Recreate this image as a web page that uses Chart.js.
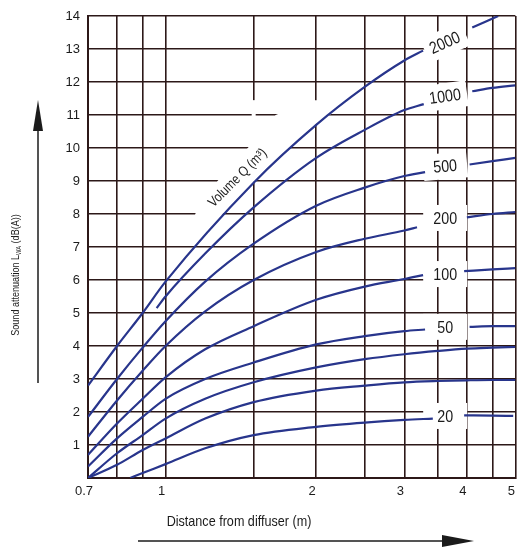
<!DOCTYPE html>
<html>
<head>
<meta charset="utf-8">
<script src="https://cdn.jsdelivr.net/npm/chart.js@4.4.1/dist/chart.umd.min.js"></script>
<style>
  html, body { margin: 0; padding: 0; background: #fff; }
  #wrap { width: 525px; height: 550px; }
</style>
</head>
<body>
<div id="wrap"><canvas id="chart" width="525" height="550"></canvas></div>
<script>
// ---------------------------------------------------------------------------
// Data
// ---------------------------------------------------------------------------
const gridX = [0.7, 0.8, 0.9, 1, 1.5, 2, 2.5, 3, 3.5, 4, 4.5, 5];
const xTickLabels = [0.7, 1, 2, 3, 4, 5];
const yTicks = [0, 1, 2, 3, 4, 5, 6, 7, 8, 9, 10, 11, 12, 13, 14];

// each curve: distance (m) and attenuation dB(A); null = gap for the label
const q2000X = [0.7, 0.8, 0.9, 1, 1.5, 2, 2.5, 3, 3.27, 3.6, 4.1, 4.62];
const q2000Y = [2.8, 4.0, 5.0, 5.95, 8.95, 10.7, 11.85, 12.65, 12.95, null, 13.65, 14.0];

const q1000X = [0.96, 1, 1.2, 1.5, 2, 2.5, 3, 3.28, 3.6, 4.1, 4.5, 5];
const q1000Y = [5.15, 5.5, 6.8, 8.2, 9.7, 10.55, 11.15, 11.33, null, 11.72, 11.82, 11.9];

const q500X = [0.7, 0.8, 0.9, 1, 1.2, 1.5, 2, 2.5, 3, 3.3, 3.6, 4.05, 4.5, 5];
const q500Y = [1.85, 3.0, 3.95, 4.75, 5.95, 7.1, 8.25, 8.8, 9.15, 9.27, null, 9.5, 9.6, 9.7];

const q200X = [0.7, 0.8, 0.9, 1, 1.2, 1.5, 2, 2.5, 3, 3.18, 3.6, 4.0, 4.5, 5];
const q200Y = [1.25, 2.35, 3.25, 4.0, 5.05, 6.0, 6.85, 7.25, 7.5, 7.6, null, 7.9, 8.0, 8.06];

const q100X = [0.7, 0.8, 0.9, 1, 1.2, 1.5, 2, 2.5, 3, 3.27, 3.6, 3.95, 4.5, 5];
const q100Y = [0.7, 1.65, 2.4, 3.05, 3.9, 4.6, 5.4, 5.8, 6.03, 6.15, null, 6.27, 6.32, 6.36];

const q50X = [0.7, 0.8, 0.9, 1, 1.2, 1.5, 2, 2.5, 3, 3.3, 3.6, 4.05, 4.5, 5];
const q50Y = [0.35, 1.2, 1.85, 2.4, 3.0, 3.5, 4.05, 4.3, 4.45, 4.5, null, 4.58, 4.6, 4.6];

const qUpperX = [0.7, 0.8, 0.9, 1, 1.2, 1.5, 2, 2.5, 3, 3.5, 4, 4.5, 5];
const qUpperY = [0, 0.75, 1.3, 1.8, 2.4, 2.9, 3.35, 3.6, 3.75, 3.85, 3.92, 3.95, 3.97];

const qLowerX = [0.7, 0.8, 0.9, 1, 1.2, 1.5, 2, 2.5, 3, 3.5, 4, 4.5, 5];
const qLowerY = [0, 0.4, 0.85, 1.2, 1.8, 2.3, 2.65, 2.8, 2.9, 2.94, 2.96, 2.97, 2.97];

const q20X = [0.85, 0.9, 1, 1.2, 1.5, 2, 2.5, 3, 3.42, 3.6, 3.95, 4.5, 4.95];
const q20Y = [0, 0.15, 0.42, 0.9, 1.3, 1.55, 1.68, 1.76, 1.8, null, 1.9, 1.89, 1.88];

// curve labels sitting in the gaps
const labelNames = ['2000', '1000', '500', '200', '100', '50', '20'];
const labelY = [13.2, 11.57, 9.45, 7.88, 6.18, 4.58, 1.88];
const labelAngle = [-24, -8, -5, 0, 0, 0, 0];
const labelX = 3.62;

// white wedge above the 2000 curve where the caption sits
const maskTopX = [1.14, 1.146, 1.27, 1.46, 1.66, 1.95, 2.05, 2.2];
const maskTopY = [7.1, 8.0, 9.0, 10.0, 11.0, 11.45, 11.45, 11.15];
// gridline at x = 1.5 is also broken above the curve
const eraseX = [1.5];
const eraseTop = [11.45];
const eraseBottom = [9.0];

// ---------------------------------------------------------------------------
// Styles
// ---------------------------------------------------------------------------
const SANS = "'Liberation Sans', Arial, sans-serif";
const GRID = '#2c1818';
const CURVE = '#28358c';
const INK = '#1b1b1b';

const curves = [
  ['2000', q2000X, q2000Y],
  ['1000', q1000X, q1000Y],
  ['500', q500X, q500Y],
  ['200', q200X, q200Y],
  ['100', q100X, q100Y],
  ['50', q50X, q50Y],
  ['upper', qUpperX, qUpperY],
  ['lower', qLowerX, qLowerY],
  ['20', q20X, q20Y]
];

const datasets = curves.map(([name, xs, ys]) => ({
  label: name,
  data: xs.map((v, i) => ({ x: v, y: ys[i] })),
  borderColor: CURVE,
  borderWidth: 2.2,
  pointRadius: 0,
  fill: false,
  spanGaps: false,
  cubicInterpolationMode: 'monotone'
}));

// condensed look: Liberation Sans squeezed horizontally
function narrowText(ctx, text, x, y, size, angleDeg, sx) {
  ctx.save();
  ctx.translate(x, y);
  ctx.rotate(angleDeg * Math.PI / 180);
  ctx.scale(sx, 1);
  ctx.font = `${size}px ${SANS}`;
  ctx.fillText(text, 0, 0);
  ctx.restore();
}

// ---------------------------------------------------------------------------
// Extra drawing: masks, curve labels, axis titles with arrows
// ---------------------------------------------------------------------------
const decorPlugin = {
  id: 'decor',
  beforeDatasetsDraw(chart) {
    const { ctx, scales: { x, y } } = chart;
    ctx.save();
    ctx.fillStyle = '#fff';

    // wedge: along maskTop, then back down the 2000 curve
    ctx.beginPath();
    maskTopX.forEach((v, i) => {
      const px = x.getPixelForValue(v);
      const py = y.getPixelForValue(maskTopY[i]);
      if (i === 0) ctx.moveTo(px, py); else ctx.lineTo(px, py);
    });
    const lo = maskTopX[0], hi = maskTopX[maskTopX.length - 1];
    for (let i = q2000X.length - 1; i >= 0; i--) {
      if (q2000X[i] > lo && q2000X[i] < hi && q2000Y[i] !== null) {
        ctx.lineTo(x.getPixelForValue(q2000X[i]), y.getPixelForValue(q2000Y[i]) - 1);
      }
    }
    ctx.closePath();
    ctx.fill();

    eraseX.forEach((v, i) => {
      const px = x.getPixelForValue(v);
      const top = y.getPixelForValue(eraseTop[i]);
      const bottom = y.getPixelForValue(eraseBottom[i]);
      ctx.fillRect(px - 2, top, 4, bottom - top);
    });

    // white boxes behind curve labels
    labelNames.forEach((t, i) => {
      ctx.save();
      ctx.translate(x.getPixelForValue(labelX), y.getPixelForValue(labelY[i]));
      ctx.rotate(labelAngle[i] * Math.PI / 180);
      ctx.fillRect(-22, -13, 44, 26);
      ctx.restore();
    });
    ctx.restore();
  },
  afterDatasetsDraw(chart) {
    const { ctx, scales: { x, y } } = chart;
    ctx.save();
    ctx.fillStyle = INK;
    ctx.textAlign = 'center';
    ctx.textBaseline = 'middle';
    labelNames.forEach((t, i) => {
      narrowText(ctx, t, x.getPixelForValue(labelX), y.getPixelForValue(labelY[i]) + 1,
        17, labelAngle[i], 0.84);
    });

    // caption along the 2000 curve
    narrowText(ctx, 'Volume Q (m³)', x.getPixelForValue(1.394), y.getPixelForValue(9.09),
      14, -45, 0.84);
    ctx.restore();
  },
  afterDraw(chart) {
    const { ctx, chartArea: ca } = chart;
    ctx.save();
    ctx.fillStyle = INK;
    ctx.strokeStyle = INK;
    ctx.lineWidth = 1.5;

    // y title (rotated) with subscript
    const sx = 0.82;
    const fMain = `11px ${SANS}`, fSub = `7px ${SANS}`;
    const parts = [['Sound attenuation L', fMain, 0], ['WA', fSub, 3], [' (dB(A))', fMain, 0]];
    let total = 0;
    parts.forEach(p => { ctx.font = p[1]; total += ctx.measureText(p[0]).width; });
    ctx.save();
    ctx.translate(16, 275);
    ctx.rotate(-Math.PI / 2);
    ctx.scale(sx, 1);
    ctx.textBaseline = 'middle';
    ctx.textAlign = 'left';
    let cx = -total / 2;
    parts.forEach(p => {
      ctx.font = p[1];
      ctx.fillText(p[0], cx, p[2]);
      cx += ctx.measureText(p[0]).width;
    });
    ctx.restore();

    // y arrow
    const ax = ca.left - 50;
    ctx.beginPath();
    ctx.moveTo(ax, 383);
    ctx.lineTo(ax, 128);
    ctx.stroke();
    ctx.beginPath();
    ctx.moveTo(ax, 100);
    ctx.lineTo(ax - 5, 131);
    ctx.lineTo(ax + 5, 131);
    ctx.closePath();
    ctx.fill();

    // x title
    ctx.textAlign = 'center';
    ctx.textBaseline = 'middle';
    narrowText(ctx, 'Distance from diffuser (m)', 239, 522, 15, 0, 0.84);

    // x arrow
    ctx.beginPath();
    ctx.moveTo(138, 541);
    ctx.lineTo(446, 541);
    ctx.stroke();
    ctx.beginPath();
    ctx.moveTo(474, 541);
    ctx.lineTo(442, 535);
    ctx.lineTo(442, 547);
    ctx.closePath();
    ctx.fill();
    ctx.restore();
  }
};

// ---------------------------------------------------------------------------
// Chart
// ---------------------------------------------------------------------------
const ctx = document.getElementById('chart').getContext('2d');
new Chart(ctx, {
  type: 'line',
  data: { datasets },
  options: {
    responsive: false,
    animation: false,
    layout: { padding: { top: 16, right: 3, left: 0, bottom: 0 } },
    plugins: {
      legend: { display: false },
      tooltip: { enabled: false }
    },
    scales: {
      x: {
        type: 'logarithmic',
        min: 0.7,
        max: 5,
        afterBuildTicks: (scale) => {
          scale.ticks = gridX.map(v => ({ value: v }));
        },
        afterFit: (scale) => { scale.height = 72; },
        ticks: {
          autoSkip: false,
          maxRotation: 0,
          padding: 6,
          labelOffset: -4,
          color: INK,
          font: { family: SANS, size: 13 },
          callback: (v) => xTickLabels.includes(v) ? String(v) : ''
        },
        grid: { color: GRID, lineWidth: 1.6, drawTicks: false },
        border: { color: GRID, width: 2 }
      },
      y: {
        type: 'linear',
        min: 0,
        max: 14,
        afterBuildTicks: (scale) => {
          scale.ticks = yTicks.map(v => ({ value: v }));
        },
        afterFit: (scale) => { scale.width = 88; },
        ticks: {
          padding: 8,
          color: INK,
          font: { family: SANS, size: 13 },
          callback: (v) => v === 0 ? '' : String(v)
        },
        grid: { color: GRID, lineWidth: 1.6, drawTicks: false },
        border: { color: GRID, width: 2 }
      }
    }
  },
  plugins: [decorPlugin]
});
</script>
</body>
</html>
